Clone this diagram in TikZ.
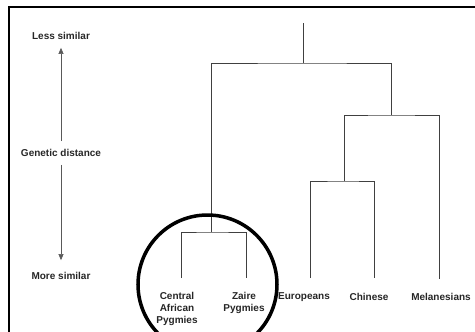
\documentclass[tikz,border=0pt]{standalone}
\usepackage{fontspec}
\setmainfont{Liberation Sans}
\usetikzlibrary{arrows.meta}
\begin{document}
\begin{tikzpicture}[x=1pt,y=1pt,
  lbl/.style={font=\bfseries\fontsize{10}{12}\selectfont, align=center, text=black!85, inner sep=0pt},
  branch/.style={draw=black!75, line width=0.9pt},
  axisarrow/.style={draw=black!65, line width=0.6pt, -{Triangle[length=6pt,width=5pt]}},
  ring/.style={circle, draw=black, line width=3.5pt, minimum size=139pt, inner sep=0pt}]
\useasboundingbox (0,0) rectangle (475,-332);
% frame
\draw[line width=2pt] (9,-332) -- (9,-7) -- (475,-7);
% axis labels
\node[lbl] (less) at (61,-36) {Less similar};
\node[lbl] (gd) at (61,-153) {Genetic distance};
\node[lbl] (more) at (61,-276) {More similar};
\draw[axisarrow, shorten <=8pt, shorten >=8pt] (gd.north) -- (less.south);
\draw[axisarrow, shorten <=8pt, shorten >=12pt] (gd.south) -- (more.north);
% tree coordinates
\coordinate (top) at (303,-23);
\coordinate (root) at (303,-63);
\coordinate (pyg) at (211,-232);
\coordinate (nonafr) at (391,-115);
\coordinate (eurchn) at (344,-181);
\coordinate (lcap) at (181,-278);
\coordinate (lzai) at (246,-278);
\coordinate (leur) at (310,-278);
\coordinate (lchn) at (374,-278);
\coordinate (lmel) at (439,-279);
% tree
\draw[branch] (top) -- (root);
\draw[branch] (pyg) |- (root) -| (nonafr);
\draw[branch] (lcap) |- (pyg) -| (lzai);
\draw[branch] (eurchn) |- (nonafr) -| (lmel);
\draw[branch] (leur) |- (eurchn) -| (lchn);
% leaf labels
\node[lbl] (cap) at (177,-309) {Central\\African\\Pygmies};
\node[lbl] (zai) at (244,-303) {Zaire\\Pygmies};
\node[lbl] (eur) at (304,-297) {Europeans};
\node[lbl] (chn) at (369,-297) {Chinese};
\node[lbl] (mel) at (441,-297) {Melanesians};
% highlight ring
\node[ring] (hl) at (207.5,-284.5) {};
\end{tikzpicture}
\end{document}
